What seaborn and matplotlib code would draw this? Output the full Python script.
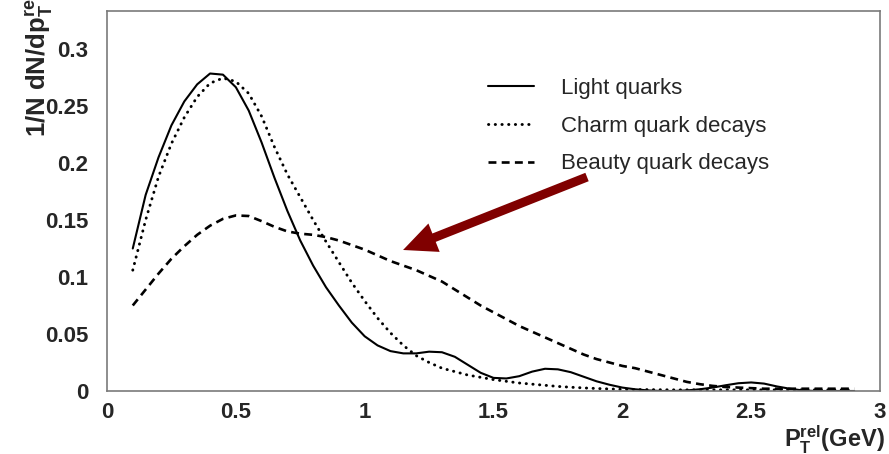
import matplotlib
matplotlib.use("Agg")
import matplotlib.pyplot as plt
import seaborn as sns
import pandas as pd
from matplotlib.ticker import MultipleLocator, FuncFormatter
from matplotlib.lines import Line2D

# Relative transverse momentum of the lepton w.r.t. the jet axis (GeV)
pt_rel = [0.10, 0.15, 0.20, 0.25, 0.30, 0.35, 0.40, 0.45, 0.50, 0.55,
          0.60, 0.65, 0.70, 0.75, 0.80, 0.85, 0.90, 0.95, 1.00, 1.05,
          1.10, 1.15, 1.20, 1.25, 1.30, 1.35, 1.40, 1.45, 1.50, 1.55,
          1.60, 1.65, 1.70, 1.75, 1.80, 1.85, 1.90, 1.95, 2.00, 2.05,
          2.10, 2.15, 2.20, 2.25, 2.30, 2.35, 2.40, 2.45, 2.50, 2.55,
          2.60, 2.65, 2.70, 2.75, 2.80, 2.85, 2.90]

light_quarks = [0.125, 0.172, 0.205, 0.233, 0.254, 0.269, 0.2785, 0.2775, 0.2665, 0.246,
                0.218, 0.187, 0.158, 0.132, 0.110, 0.091, 0.075, 0.060, 0.048, 0.040,
                0.035, 0.033, 0.033, 0.0345, 0.034, 0.030, 0.023, 0.016, 0.0115, 0.011,
                0.013, 0.017, 0.0195, 0.019, 0.0165, 0.0125, 0.0085, 0.0055, 0.003, 0.0015,
                0.0005, 0.0, 0.0, 0.0005, 0.0015, 0.003, 0.005, 0.0068, 0.0075, 0.0065,
                0.004, 0.002, 0.0005, 0.0, 0.0, 0.0, 0.0]

charm_decays = [0.106, 0.150, 0.188, 0.217, 0.240, 0.258, 0.270, 0.2745, 0.2715, 0.261,
                0.241, 0.214, 0.190, 0.170, 0.150, 0.131, 0.113, 0.095, 0.079, 0.064,
                0.051, 0.040, 0.031, 0.025, 0.020, 0.017, 0.014, 0.012, 0.010, 0.0085,
                0.007, 0.006, 0.005, 0.004, 0.0033, 0.0027, 0.0022, 0.0018, 0.0015, 0.0013,
                0.0012, 0.0011, 0.001, 0.001, 0.001, 0.001, 0.001, 0.001, 0.001, 0.001,
                0.001, 0.001, 0.001, 0.001, 0.001, 0.001, 0.001]

beauty_decays = [0.075, 0.089, 0.103, 0.116, 0.127, 0.137, 0.145, 0.151, 0.154, 0.1535,
                 0.149, 0.144, 0.140, 0.138, 0.137, 0.135, 0.132, 0.128, 0.124, 0.119,
                 0.114, 0.110, 0.106, 0.101, 0.096, 0.089, 0.082, 0.075, 0.069, 0.063,
                 0.057, 0.052, 0.047, 0.042, 0.037, 0.032, 0.028, 0.025, 0.022, 0.020,
                 0.017, 0.014, 0.011, 0.008, 0.006, 0.0045, 0.0035, 0.003, 0.0025, 0.002,
                 0.002, 0.002, 0.002, 0.002, 0.002, 0.002, 0.002]

series_labels = ["Light quarks", "Charm quark decays", "Beauty quark decays"]
x_ticks = [0, 0.5, 1, 1.5, 2, 2.5, 3]
y_ticks = [0, 0.05, 0.1, 0.15, 0.2, 0.25, 0.3]

sns.set_style("white")
plt.rcParams["font.family"] = ["Liberation Sans", "DejaVu Sans"]
plt.rcParams["mathtext.fontset"] = "custom"
plt.rcParams["mathtext.rm"] = "Liberation Sans:bold"
plt.rcParams["mathtext.it"] = "Liberation Sans:bold"
plt.rcParams["mathtext.bf"] = "Liberation Sans:bold"
plt.rcParams["mathtext.default"] = "rm"

W, H = 889, 454
fig = plt.figure(figsize=(W / 100, H / 100), dpi=100)
ax = fig.add_axes([107 / W, 63 / H, 773 / W, 380 / H])

styles = [
    dict(linestyle="-", lw=1.5, solid_joinstyle="round"),
    dict(linestyle=(0, (0.1, 2.2)), lw=2.1, dash_capstyle="round"),
    dict(linestyle=(0, (3, 2)), lw=1.9),
]
for values, st in zip([light_quarks, charm_decays, beauty_decays], styles):
    df = pd.DataFrame({"pt_rel": pt_rel, "density": values})
    sns.lineplot(data=df, x="pt_rel", y="density", ax=ax, color="black",
                 legend=False, **st)

ax.set_xlim(0, 3)
ax.set_ylim(0, 380 / 1140)
ax.set_xticks(x_ticks)
ax.set_yticks(y_ticks)
fmt = FuncFormatter(lambda v, p: "%g" % v)
ax.xaxis.set_major_formatter(fmt)
ax.yaxis.set_major_formatter(fmt)
ax.xaxis.set_minor_locator(MultipleLocator(0.1))
ax.yaxis.set_minor_locator(MultipleLocator(0.01))
ax.set_xlabel("")
ax.set_ylabel("")

frame_col = "#7a7a7a"
for s in ax.spines.values():
    s.set_color(frame_col)
    s.set_linewidth(1.2)
ax.tick_params(axis="both", which="both", direction="in", color=frame_col,
               width=1.0, labelsize=16, top=False, right=False)
ax.tick_params(axis="both", which="major", length=10)
ax.tick_params(axis="both", which="minor", length=5.5)
ax.tick_params(axis="x", which="major", pad=8)
ax.tick_params(axis="y", which="major", pad=13.5)
for lab in ax.get_xticklabels() + ax.get_yticklabels():
    lab.set_fontweight("bold")

# Annotation arrow pointing at the beauty shoulder
ax.annotate("", xy=(1.149, 0.1237), xytext=(1.863, 0.1877),
            arrowprops=dict(arrowstyle="simple,head_length=24,head_width=22,tail_width=6.5",
                            mutation_scale=1, color="#800000", lw=0,
                            shrinkA=0, shrinkB=0))

handles = [Line2D([], [], color="black", **st) for st in styles]
ax.legend(handles, series_labels, loc="upper left",
          bbox_to_anchor=((488 - 107) / 773, (391 - 78) / 380),
          frameon=False, fontsize=16, handlelength=2.05, handletextpad=1.25,
          labelspacing=0.75, borderpad=0, borderaxespad=0)

fig.text(38 / W, (H - 137) / H, "1/N dN/dp$_{T}^{rel}$", rotation=90,
         ha="center", va="bottom", fontsize=18.5, fontweight="bold")
fig.text(885 / W, 6 / H, "P$_{T}^{rel}$(GeV)", ha="right", va="baseline",
         fontsize=17, fontweight="bold")

fig.savefig("out.png", dpi=100)
